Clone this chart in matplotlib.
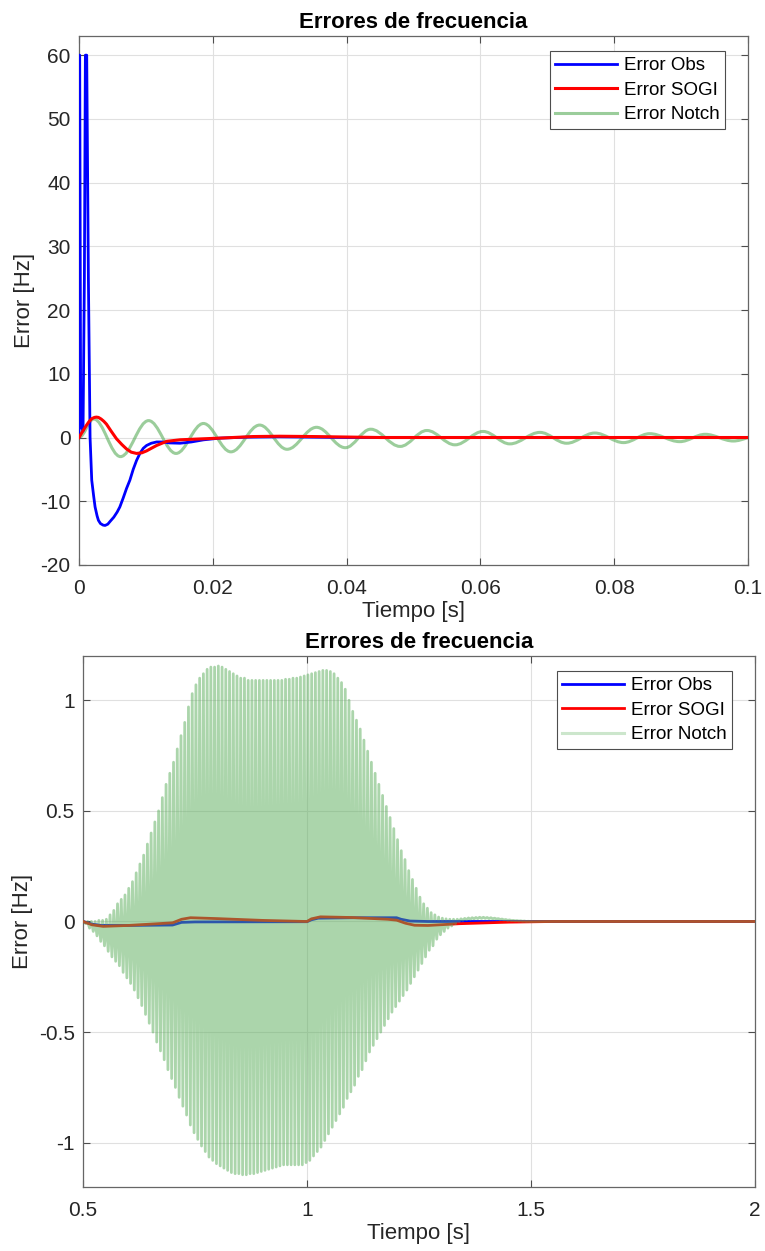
import numpy as np
import matplotlib
matplotlib.use("Agg")
import matplotlib.pyplot as plt
from matplotlib.path import Path
from matplotlib.patches import PathPatch

plt.rcParams['font.family'] = ['Liberation Sans', 'DejaVu Sans']
plt.rcParams['axes.unicode_minus'] = False

# ---------------- data: top panel (0 - 0.1 s) ----------------
obs_t = [0.0, 0.00003, 0.0001, 0.00025, 0.0004, 0.0006, 0.0008, 0.00095, 0.00115, 0.0014,
         0.00165, 0.0019, 0.0022, 0.0024, 0.0027, 0.0029, 0.0032, 0.0036, 0.0039, 0.0043,
         0.0047, 0.0052, 0.0057, 0.0061, 0.0066, 0.0071, 0.0076, 0.0081, 0.0086, 0.0091,
         0.0096, 0.0101, 0.0108, 0.0116, 0.0125, 0.0135, 0.0151, 0.0168, 0.0186, 0.021,
         0.025, 0.03, 0.04, 0.1]
obs_v = [0.0, 60.0, 60.0, 1.5, 3.0, 1.0, 25.0, 60.0, 60.0, 25.0,
         0.0, -6.7, -9.3, -10.9, -12.3, -13.0, -13.5, -13.75, -13.8, -13.6,
         -13.1, -12.5, -11.7, -10.9, -9.5, -8.0, -6.7, -5.0, -3.6, -2.5,
         -1.7, -1.25, -0.9, -0.7, -0.7, -0.85, -0.9, -0.7, -0.37, -0.1,
         0.05, 0.1, 0.0, 0.0]

sogi_t = [0.0, 0.0005, 0.0011, 0.0015, 0.0019, 0.0023, 0.0026, 0.0029, 0.0033, 0.0037,
          0.0041, 0.0048, 0.0056, 0.0064, 0.0071, 0.0078, 0.0086, 0.0094, 0.0101, 0.0108,
          0.0116, 0.0131, 0.0151, 0.0186, 0.021, 0.026, 0.03, 0.035, 0.045, 0.1]
sogi_v = [0.0, 0.9, 1.9, 2.5, 2.95, 3.15, 3.2, 3.15, 2.9, 2.55,
          2.1, 1.0, -0.2, -1.1, -1.8, -2.3, -2.5, -2.4, -2.1, -1.7,
          -1.25, -0.6, -0.36, -0.2, -0.1, 0.15, 0.2, 0.15, 0.0, 0.0]

# extrema of the notch error oscillation (time, value)
notch_t = [0.0, 0.0022, 0.0062, 0.0104, 0.0145, 0.0186, 0.0227, 0.0270, 0.0311, 0.0355,
           0.0398, 0.0436, 0.0480, 0.0520, 0.0562, 0.0604, 0.0644, 0.0689, 0.0729, 0.0771,
           0.0814, 0.0853, 0.0898, 0.0936, 0.0978, 0.1019]
notch_v = [0.0, 2.9, -3.0, 2.65, -2.5, 2.2, -2.25, 1.95, -1.85, 1.6,
           -1.6, 1.3, -1.4, 1.1, -1.15, 0.95, -1.0, 0.8, -0.9, 0.7,
           -0.8, 0.6, -0.65, 0.5, -0.55, 0.45]

# ---------------- data: bottom panel (0.5 - 2 s) ----------------
obs2_t = [0.5, 0.52, 0.54, 0.6, 0.7, 0.71, 0.72, 0.75, 1.0, 1.01, 1.025, 1.1, 1.2, 1.21,
          1.23, 1.27, 1.3, 2.0]
obs2_v = [0.0, -0.012, -0.018, -0.018, -0.016, -0.01, -0.004, -0.002, -0.001, 0.008, 0.015,
          0.017, 0.017, 0.01, 0.002, 0.0, 0.0, 0.0]

sogi2_t = [0.5, 0.52, 0.545, 0.6, 0.7, 0.72, 0.74, 0.8, 0.9, 1.0, 1.01, 1.03, 1.1, 1.18,
           1.2, 1.22, 1.24, 1.27, 1.34, 1.45, 1.55, 2.0]
sogi2_v = [0.0, -0.015, -0.022, -0.018, -0.006, 0.01, 0.017, 0.013, 0.005, 0.0, 0.012,
           0.021, 0.018, 0.01, 0.006, -0.008, -0.017, -0.018, -0.01, -0.003, 0.0, 0.0]

# notch error: one positive and one negative extreme per 120 Hz cycle from t = 0.5 s
notch2_start = 0.5
notch2_freq = 120.0
notch2_end = 2.0
notch2_peaks = [
    0.0, 0.0, 0.0, 0.0, 0.005, 0.005, 0.01, 0.03, 0.05, 0.08,
    0.10, 0.12, 0.15, 0.18, 0.22, 0.26, 0.30, 0.35, 0.40, 0.45,
    0.50, 0.56, 0.62, 0.67, 0.72, 0.78, 0.84, 0.90, 0.97, 1.03,
    1.07, 1.10, 1.12, 1.14, 1.15, 1.15, 1.155, 1.15, 1.14, 1.13,
    1.12, 1.11, 1.10, 1.10, 1.09, 1.09, 1.09, 1.09, 1.09, 1.09,
    1.09, 1.09, 1.09, 1.09, 1.095, 1.095, 1.10, 1.10, 1.105, 1.11,
    1.115, 1.12, 1.125, 1.13, 1.135, 1.135, 1.13, 1.12, 1.10, 1.08,
    1.05, 1.00, 0.95, 0.91, 0.87, 0.82, 0.77, 0.72, 0.67, 0.62,
    0.57, 0.52, 0.47, 0.42, 0.37, 0.32, 0.28, 0.23, 0.19, 0.15,
    0.11, 0.08, 0.06, 0.04, 0.03, 0.02, 0.015, 0.012, 0.01, 0.01,
    0.01, 0.012, 0.014, 0.016, 0.017, 0.018, 0.019, 0.019, 0.018, 0.017,
    0.015, 0.013, 0.011, 0.009, 0.007, 0.005, 0.004, 0.003, 0.002, 0.001]
notch2_troughs = [
    -0.01, -0.03, -0.045, -0.065, -0.09, -0.11, -0.135, -0.16, -0.18, -0.20,
    -0.23, -0.255, -0.28, -0.31, -0.345, -0.38, -0.42, -0.46, -0.50, -0.545,
    -0.585, -0.625, -0.67, -0.71, -0.75, -0.795, -0.835, -0.875, -0.92, -0.955,
    -0.985, -1.015, -1.04, -1.065, -1.08, -1.095, -1.105, -1.115, -1.125, -1.135,
    -1.14, -1.14, -1.145, -1.145, -1.14, -1.14, -1.135, -1.13, -1.125, -1.12,
    -1.115, -1.11, -1.105, -1.10, -1.10, -1.10, -1.10, -1.10, -1.10, -1.09,
    -1.08, -1.06, -1.04, -1.02, -0.99, -0.96, -0.93, -0.90, -0.87, -0.84,
    -0.80, -0.77, -0.74, -0.70, -0.67, -0.63, -0.59, -0.56, -0.53, -0.50,
    -0.47, -0.44, -0.41, -0.385, -0.36, -0.335, -0.31, -0.28, -0.25, -0.22,
    -0.19, -0.16, -0.13, -0.11, -0.08, -0.06, -0.045, -0.03, -0.02, -0.01,
    0.0, 0.005, 0.008, 0.01, 0.012, 0.013, 0.014, 0.014, 0.013, 0.012,
    0.011, 0.009, 0.007, 0.005, 0.004, 0.003, 0.002, 0.001, 0.0, 0.0]

top_xticks = [0, 0.02, 0.04, 0.06, 0.08, 0.1]
top_xlabels = ['0', '0.02', '0.04', '0.06', '0.08', '0.1']
top_yticks = [-20, -10, 0, 10, 20, 30, 40, 50, 60]
bot_xticks = [0.5, 1, 1.5, 2]
bot_xlabels = ['0.5', '1', '1.5', '2']
bot_yticks = [-1, -0.5, 0, 0.5, 1]
bot_ylabels = ['-1', '-0.5', '0', '0.5', '1']

# ---------------- drawing ----------------
BLUE = (0, 0, 1)
RED = (1, 0, 0)
GREEN = (0.35, 0.68, 0.35)
TXT = (0.15, 0.15, 0.15)
TICKFS = 15
LABELFS = 16
TITLEFS = 16
LEGFS = 13.5


def smooth_extrema_path(ts, vs):
    """Cubic Bezier path through extrema with horizontal tangents."""
    verts = [(ts[0], vs[0])]
    codes = [Path.MOVETO]
    k = 0.3634
    for i in range(1, len(ts)):
        t0, v0, t1, v1 = ts[i - 1], vs[i - 1], ts[i], vs[i]
        dt = t1 - t0
        verts += [(t0 + k * dt, v0), (t1 - k * dt, v1), (t1, v1)]
        codes += [Path.CURVE4] * 3
    return Path(verts, codes)


def style(ax):
    ax.grid(True, color=(0.88, 0.88, 0.88), linewidth=0.8)
    ax.set_axisbelow(True)
    ax.tick_params(direction='in', top=True, right=True, length=5, width=0.8,
                   colors=(0.3, 0.3, 0.3), labelcolor=TXT, labelsize=TICKFS)
    ax.tick_params(axis='x', pad=10)
    ax.tick_params(axis='y', pad=6)
    for s in ax.spines.values():
        s.set_color((0.4, 0.4, 0.4))
        s.set_linewidth(0.9)


def legend(ax, handles):
    leg = ax.legend(handles=handles, loc='upper right', bbox_to_anchor=(0.966, 0.971),
                    fontsize=LEGFS, frameon=True, fancybox=False,
                    edgecolor=(0.3, 0.3, 0.3), borderpad=0.3, handlelength=3.3,
                    labelspacing=0.4, borderaxespad=0.0, handletextpad=0.35,
                    framealpha=1)
    leg.get_frame().set_linewidth(0.8)


fig = plt.figure(figsize=(7.65, 12.51), dpi=100)
ax1 = fig.add_axes([0.1033, 0.5484, 0.8745, 0.4228])
ax2 = fig.add_axes([0.1085, 0.0512, 0.8784, 0.4244])

# top
pp = PathPatch(smooth_extrema_path(notch_t, notch_v), facecolor='none',
               edgecolor=GREEN, alpha=0.6, linewidth=2.2, zorder=2)
ax1.add_patch(pp)
h1, = ax1.plot(obs_t, obs_v, color=BLUE, linewidth=2.0, zorder=3, label='Error Obs')
h2, = ax1.plot(sogi_t, sogi_v, color=RED, linewidth=2.2, zorder=4, label='Error SOGI')
h3, = ax1.plot([], [], color=GREEN, alpha=0.6, linewidth=2.2, label='Error Notch')
ax1.set_xlim(0, 0.1)
ax1.set_ylim(-20, 63)
ax1.set_xticks(top_xticks)
ax1.set_xticklabels(top_xlabels)
ax1.set_yticks(top_yticks)
style(ax1)
ax1.set_xlabel('Tiempo [s]', fontsize=LABELFS, color=TXT, labelpad=2)
ax1.set_ylabel('Error [Hz]', fontsize=LABELFS, color=TXT, labelpad=4)
ax1.set_title('Errores de frecuencia', fontsize=TITLEFS, fontweight='bold', pad=6)
legend(ax1, [h1, h2, h3])

# bottom
g1, = ax2.plot(obs2_t, obs2_v, color=BLUE, linewidth=2.0, zorder=2, label='Error Obs')
g2, = ax2.plot(sogi2_t, sogi2_v, color=RED, linewidth=2.0, zorder=3, label='Error SOGI')
n = len(notch2_peaks)
half = 1.0 / (2 * notch2_freq)
pk_t = notch2_start + (2 * np.arange(n) + 0.5) * half
tr_t = notch2_start + (2 * np.arange(n) + 1.5) * half
n2_t = np.empty(2 * n)
n2_v = np.empty(2 * n)
n2_t[0::2], n2_t[1::2] = pk_t, tr_t
n2_v[0::2], n2_v[1::2] = notch2_peaks, notch2_troughs
n2_t = np.r_[notch2_start, n2_t, notch2_end]
n2_v = np.r_[0.0, n2_v, 0.0]
ax2.plot(n2_t, n2_v, color=GREEN, alpha=0.5, linewidth=2.0, zorder=4)
g3, = ax2.plot([], [], color=GREEN, alpha=0.3, linewidth=2.2, label='Error Notch')
ax2.set_xlim(0.5, 2)
ax2.set_ylim(-1.2, 1.2)
ax2.set_xticks(bot_xticks)
ax2.set_xticklabels(bot_xlabels)
ax2.set_yticks(bot_yticks)
ax2.set_yticklabels(bot_ylabels)
style(ax2)
ax2.set_xlabel('Tiempo [s]', fontsize=LABELFS, color=TXT, labelpad=2)
ax2.set_ylabel('Error [Hz]', fontsize=LABELFS, color=TXT, labelpad=4)
ax2.set_title('Errores de frecuencia', fontsize=TITLEFS, fontweight='bold', pad=6)
legend(ax2, [g1, g2, g3])

fig.savefig('out.png', dpi=100)
